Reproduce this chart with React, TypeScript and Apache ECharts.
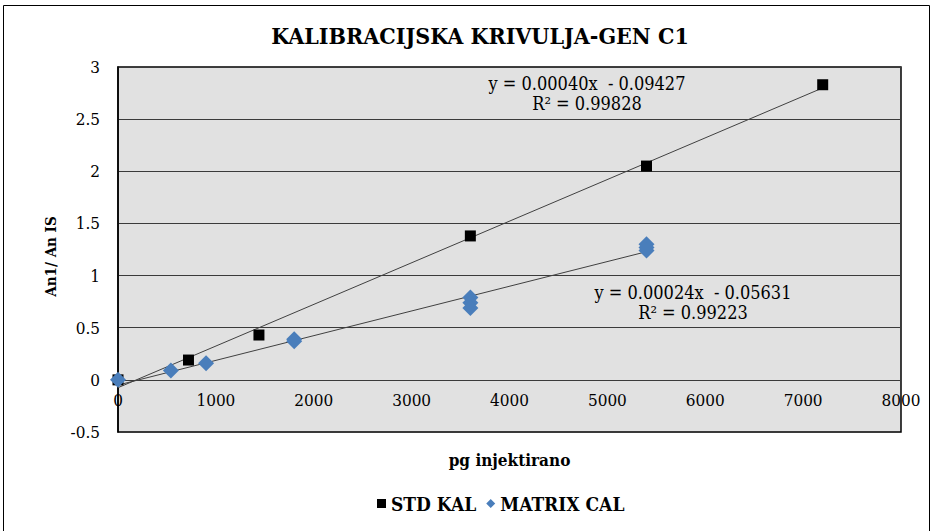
import React, { useEffect, useRef } from "react";
import * as echarts from "echarts";

const TITLE = "KALIBRACIJSKA KRIVULJA-GEN C1";
const X_NAME = "pg injektirano";
const Y_NAME = "An1/ An IS";

const stdX = [0, 720, 1440, 3600, 5400, 7200];
const stdY = [0, 0.19, 0.43, 1.38, 2.05, 2.83];

const matrixX = [0, 540, 900, 1800, 1800, 3600, 3600, 3600, 5400, 5400, 5400];
const matrixY = [0, 0.09, 0.16, 0.39, 0.37, 0.79, 0.74, 0.69, 1.3, 1.27, 1.24];

const stdEquation = ["y = 0.00040x  - 0.09427", "R² = 0.99828"];
const matrixEquation = ["y = 0.00024x  - 0.05631", "R² = 0.99223"];

const Y_MIN = -0.5;
const Y_MAX = 3;
const GRID_H = 365;

function linFit(xs: number[], ys: number[]) {
  const n = xs.length;
  const mx = xs.reduce((a, b) => a + b, 0) / n;
  const my = ys.reduce((a, b) => a + b, 0) / n;
  let sxy = 0;
  let sxx = 0;
  for (let i = 0; i < n; i++) {
    sxy += (xs[i] - mx) * (ys[i] - my);
    sxx += (xs[i] - mx) * (xs[i] - mx);
  }
  const slope = sxy / sxx;
  return { slope, intercept: my - slope * mx };
}

function trend(xs: number[], ys: number[]) {
  const f = linFit(xs, ys);
  const lo = Math.min(...xs);
  const hi = Math.max(...xs);
  return [
    [lo, f.intercept + f.slope * lo],
    [hi, f.intercept + f.slope * hi],
  ];
}

const FONT = "DejaVu Serif Condensed";

export default function App() {
  const ref = useRef<HTMLDivElement>(null);
  useEffect(() => {
    if (!ref.current) return;
    const chart = echarts.init(ref.current, null, { renderer: "svg" });
    const zeroOffset = -((0 - Y_MIN) / (Y_MAX - Y_MIN)) * GRID_H;
    chart.setOption({
      animation: false,
      backgroundColor: "#ffffff",
      title: {
        text: TITLE,
        left: 475,
        textAlign: "center",
        top: 19,
        textStyle: { fontFamily: FONT, fontWeight: "bold", fontSize: 23, color: "#000" },
      },
      grid: {
        left: 118,
        top: 67,
        width: 783,
        height: GRID_H,
        show: true,
        backgroundColor: "#e1e1e1",
        borderColor: "#000",
        borderWidth: 1.5,
      },
      legend: {
        left: 372,
        top: 489,
        itemWidth: 9,
        itemHeight: 9,
        itemGap: 10,
        textStyle: { fontFamily: FONT, fontWeight: "bold", fontSize: 19, color: "#000" },
        data: [
          { name: "STD KAL", icon: "rect" },
          { name: "MATRIX CAL", icon: "diamond" },
        ],
      },
      xAxis: {
        type: "value",
        min: 0,
        max: 8000,
        interval: 1000,
        name: X_NAME,
        nameLocation: "middle",
        nameGap: 72,
        nameTextStyle: { fontFamily: FONT, fontWeight: "bold", fontSize: 17, color: "#000" },
        offset: zeroOffset,
        axisLine: { show: false, onZero: false },
        axisTick: { show: false },
        splitLine: { show: false },
        axisLabel: {
          fontFamily: FONT,
          fontSize: 17,
          color: "#000",
          margin: 12,
          formatter: (v: number) => String(v),
        },
      },
      yAxis: {
        type: "value",
        min: Y_MIN,
        max: Y_MAX,
        interval: 0.5,
        name: Y_NAME,
        nameLocation: "middle",
        nameGap: 60,
        nameTextStyle: {
          fontFamily: FONT,
          fontWeight: "bold",
          fontSize: 15,
          color: "#000",
          padding: [0, 14, 0, 0],
        },
        axisLine: { show: true, lineStyle: { color: "#000", width: 1.5 } },
        axisTick: { show: false },
        splitLine: { show: true, lineStyle: { color: "#3a3a3a", width: 1 } },
        axisLabel: { fontFamily: FONT, fontSize: 17, color: "#000", margin: 18 },
      },
      series: [
        {
          name: "STD KAL trend",
          type: "line",
          data: trend(stdX, stdY),
          symbol: "none",
          silent: true,
          lineStyle: { color: "#404040", width: 1 },
          z: 2,
        },
        {
          name: "MATRIX CAL trend",
          type: "line",
          data: trend(matrixX, matrixY),
          symbol: "none",
          silent: true,
          lineStyle: { color: "#404040", width: 1 },
          z: 2,
        },
        {
          name: "STD KAL",
          type: "scatter",
          symbol: "rect",
          symbolSize: 11,
          itemStyle: { color: "#000", opacity: 1 },
          data: stdX.map((x, i) => [x, stdY[i]]),
          z: 3,
        },
        {
          name: "MATRIX CAL",
          type: "scatter",
          symbol: "diamond",
          symbolSize: 16,
          itemStyle: { color: "#4a7ebb", opacity: 1 },
          data: matrixX.map((x, i) => [x, matrixY[i]]),
          z: 4,
        },
      ],
      graphic: [
        {
          type: "rect",
          shape: { x: 3.5, y: 5.5, width: 926, height: 530 },
          style: { fill: "none", stroke: "#000", lineWidth: 1 },
          silent: true,
        },
        {
          type: "text",
          x: 587,
          y: 93,
          style: {
            text: stdEquation.join("\n"),
            fontFamily: FONT,
            fontSize: 18,
            fill: "#000",
            align: "center",
            verticalAlign: "middle",
            lineHeight: 20,
          },
          z: 10,
        },
        {
          type: "text",
          x: 693,
          y: 302,
          style: {
            text: matrixEquation.join("\n"),
            fontFamily: FONT,
            fontSize: 18,
            fill: "#000",
            align: "center",
            verticalAlign: "middle",
            lineHeight: 20,
          },
          z: 10,
        },
      ],
    });
    return () => chart.dispose();
  }, []);
  return (
    <div
      ref={ref}
      style={{ position: "fixed", left: 0, top: 0, width: 934, height: 531 }}
    />
  );
}
